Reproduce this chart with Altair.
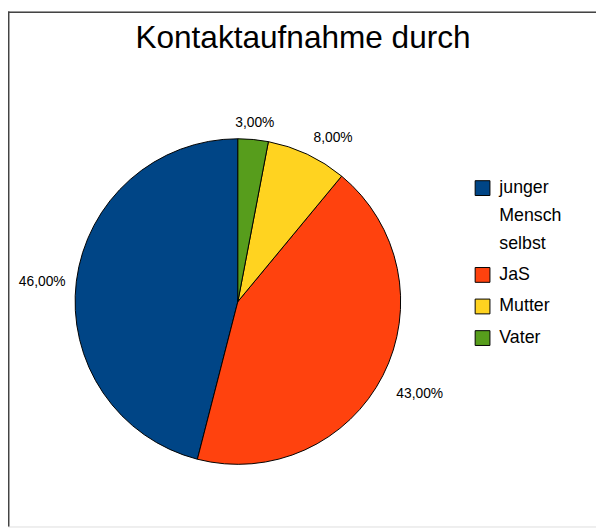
import altair as alt
import pandas as pd

title_text = ["Kontaktaufnahme durch"]
categories = ["junger Mensch selbst", "JaS", "Mutter", "Vater"]
values = [46, 43, 8, 3]
colors = ["#004586", "#ff420e", "#ffd320", "#579d1c"]
# clockwise from 12 o'clock: Vater, Mutter, JaS, junger Mensch selbst
draw_order = [4, 3, 2, 1]

df = pd.DataFrame({"cat": categories, "v": values, "ord": draw_order})

CX, CY = 233, 294
FONT = "Liberation Sans"

base = alt.Chart(df).transform_calculate(
    lab="replace(format(datum.v/100, '.2%'), '.', ',')"
).encode(
    theta=alt.Theta("v:Q", stack=True),
    order=alt.Order("ord:Q"),
    detail="cat:N",
    x=alt.value(CX),
    y=alt.value(CY),
)

pie = base.mark_arc(outerRadius=165, stroke="black", strokeWidth=1).encode(
    color=alt.Color(
        "cat:N",
        scale=alt.Scale(domain=categories, range=colors),
        legend=alt.Legend(
            title=None,
            orient="none",
            legendX=472,
            legendY=170,
            padding=0,
            symbolType="square",
            symbolSize=225,
            symbolStrokeColor="black",
            symbolStrokeWidth=1,
            symbolOpacity=1,
            labelFont=FONT,
            labelFontSize=18,
            labelColor="black",
            labelOffset=8,
            labelLimit=300,
            rowPadding=12,
            labelExpr="datum.label == 'junger Mensch selbst' ? ['junger', 'Mensch', 'selbst'] : datum.label",
        ),
    )
)


def label_layer(cat, radius, align, dx=0, dy=0):
    return base.mark_text(
        radius=radius, align=align, baseline="middle", dx=dx, dy=dy,
        font=FONT, fontSize=14, color="black",
    ).encode(
        text=alt.condition(alt.datum.cat == cat, alt.Text("lab:N"), alt.value(""))
    )


lab_vater = label_layer("Vater", 182, "center")
lab_mutter = label_layer("Mutter", 180, "left", dy=-3)
lab_jas = label_layer("JaS", 178, "left", dx=2, dy=13)
lab_jung = label_layer("junger Mensch selbst", 174, "right", dx=-2, dy=2)

title = alt.Chart(pd.DataFrame({"t": title_text})).mark_text(
    font=FONT, fontSize=32, color="black", align="center", baseline="alphabetic"
).encode(text="t:N", x=alt.value(299), y=alt.value(37))

frame_df = pd.DataFrame({"a": [0]})
frame_top = alt.Chart(frame_df).mark_rule(color="#444444", strokeWidth=1.5).encode(
    x=alt.value(0), x2=alt.value(596), y=alt.value(0.75)
)
frame_left = alt.Chart(frame_df).mark_rule(color="#444444", strokeWidth=1.5).encode(
    x=alt.value(0.75), y=alt.value(0), y2=alt.value(522)
)

chart = alt.layer(
    frame_top, frame_left, pie, lab_vater, lab_mutter, lab_jas, lab_jung, title
).properties(
    width=596, height=522, autosize=alt.AutoSizeParams(type="none"), padding=0
).configure_view(stroke=None).configure(
    background="white",
    style={"guide-label": {"lineHeight": 28.5}},
)

chart.save("out.html", embed_options={"renderer": "svg", "actions": False})
